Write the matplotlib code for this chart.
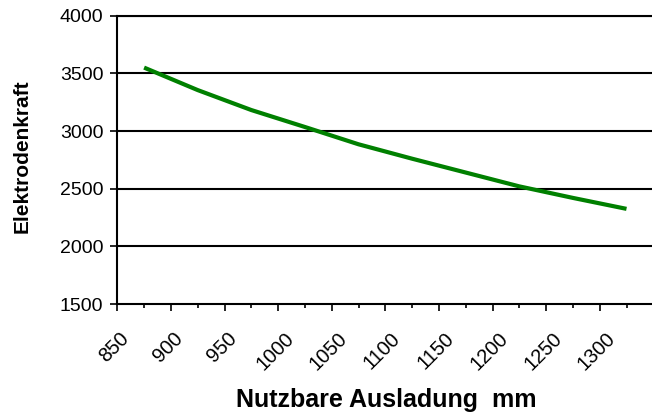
import matplotlib
matplotlib.use("Agg")
import matplotlib.pyplot as plt
from matplotlib.ticker import MultipleLocator
from matplotlib.transforms import ScaledTranslation

# data
ausladung = [875, 925, 975, 1025, 1075, 1125, 1175, 1225, 1275, 1325]
kraft = [3550, 3355, 3182, 3035, 2885, 2760, 2640, 2520, 2420, 2325]
x_ticks = [850, 900, 950, 1000, 1050, 1100, 1150, 1200, 1250, 1300]
y_ticks = [1500, 2000, 2500, 3000, 3500, 4000]

plt.rcParams['font.family'] = ['Liberation Sans', 'DejaVu Sans']

fig = plt.figure(figsize=(6.52, 4.19), dpi=100)
ax = fig.add_axes([117.3 / 652, 115 / 419, 536 / 652, 288.3 / 419])

ax.plot(ausladung, kraft, color='#008000', linewidth=3, solid_capstyle='butt')

ax.set_xlim(850, 1350)
ax.set_ylim(1500, 4000)
ax.set_xticks(x_ticks)
ax.xaxis.set_minor_locator(MultipleLocator(25))
ax.set_yticks(y_ticks)

# horizontal black grid lines like the excel chart
for y in y_ticks[1:]:
    ax.axhline(y, color='black', linewidth=1.5, zorder=1)

for side in ['left', 'bottom', 'top']:
    ax.spines[side].set_linewidth(1.5)
ax.spines['right'].set_visible(False)

ax.tick_params(axis='y', which='major', direction='out', length=5, width=1.2,
               labelsize=14, colors='black', pad=5)
ax.tick_params(axis='x', which='major', direction='out', length=5, width=1.2,
               labelsize=14.5, colors='black', pad=13)
ax.tick_params(axis='x', which='minor', direction='out', length=3, width=1.2)
ax.set_xticklabels([str(v) for v in x_ticks], rotation=45, ha='center', va='top')
shift = ScaledTranslation(-3 / 100, 0, fig.dpi_scale_trans)
for lbl in ax.get_xticklabels():
    lbl.set_transform(lbl.get_transform() + shift)

ax.set_ylabel('Elektrodenkraft', fontsize=15, fontweight='bold')
ax.yaxis.set_label_coords((32 - 117.3) / 536, 0.512)
ax.set_xlabel('Nutzbare Ausladung  mm', fontsize=18, fontweight='bold')
ax.xaxis.set_label_coords((386 - 117.3) / 536, -0.29)

fig.savefig('out.png', dpi=100)
